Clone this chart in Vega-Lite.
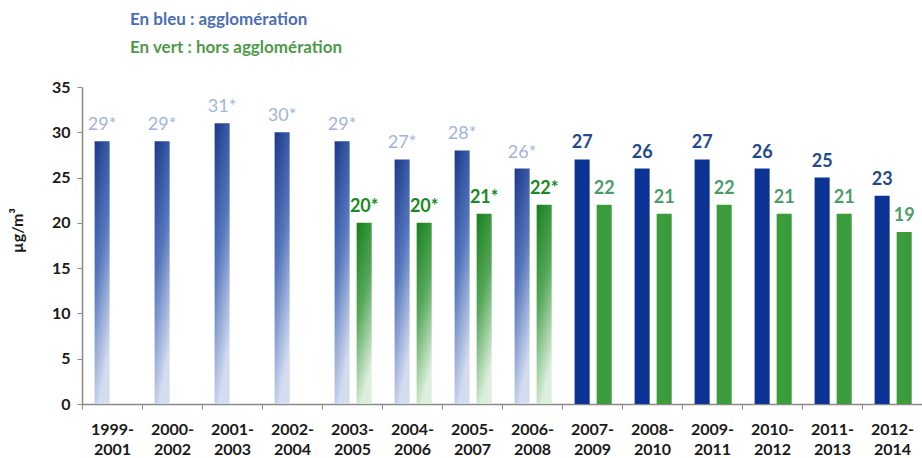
{
  "$schema": "https://vega.github.io/schema/vega-lite/v6.json",
  "width": 840,
  "height": 317,
  "autosize": {"type": "none"},
  "padding": {"left": 82, "top": 87, "right": 0, "bottom": 54},
  "background": "white",
  "config": {"font": "Lato", "view": {"stroke": null}},
  "title": {
    "text": "En bleu : agglomération",
    "subtitle": "En vert : hors agglomération",
    "anchor": "start",
    "frame": "group",
    "dx": 48,
    "font": "Lato",
    "subtitleFont": "Lato",
    "fontSize": 17,
    "subtitleFontSize": 17,
    "fontWeight": "bold",
    "subtitleFontWeight": "bold",
    "color": "#4B6DB2",
    "subtitleColor": "#4F9A4A",
    "subtitlePadding": 11,
    "offset": 22
  },
  "data": {
    "values": [
      {"period": "1999-2001", "serie": "agglomération", "value": 29, "label": "29*", "star": true},
      {"period": "2000-2002", "serie": "agglomération", "value": 29, "label": "29*", "star": true},
      {"period": "2001-2003", "serie": "agglomération", "value": 31, "label": "31*", "star": true},
      {"period": "2002-2004", "serie": "agglomération", "value": 30, "label": "30*", "star": true},
      {"period": "2003-2005", "serie": "agglomération", "value": 29, "label": "29*", "star": true},
      {"period": "2003-2005", "serie": "hors agglomération", "value": 20, "label": "20*", "star": true},
      {"period": "2004-2006", "serie": "agglomération", "value": 27, "label": "27*", "star": true},
      {"period": "2004-2006", "serie": "hors agglomération", "value": 20, "label": "20*", "star": true},
      {"period": "2005-2007", "serie": "agglomération", "value": 28, "label": "28*", "star": true},
      {"period": "2005-2007", "serie": "hors agglomération", "value": 21, "label": "21*", "star": true},
      {"period": "2006-2008", "serie": "agglomération", "value": 26, "label": "26*", "star": true},
      {"period": "2006-2008", "serie": "hors agglomération", "value": 22, "label": "22*", "star": true},
      {"period": "2007-2009", "serie": "agglomération", "value": 27, "label": "27", "star": false},
      {"period": "2007-2009", "serie": "hors agglomération", "value": 22, "label": "22", "star": false},
      {"period": "2008-2010", "serie": "agglomération", "value": 26, "label": "26", "star": false},
      {"period": "2008-2010", "serie": "hors agglomération", "value": 21, "label": "21", "star": false},
      {"period": "2009-2011", "serie": "agglomération", "value": 27, "label": "27", "star": false},
      {"period": "2009-2011", "serie": "hors agglomération", "value": 22, "label": "22", "star": false},
      {"period": "2010-2012", "serie": "agglomération", "value": 26, "label": "26", "star": false},
      {"period": "2010-2012", "serie": "hors agglomération", "value": 21, "label": "21", "star": false},
      {"period": "2011-2013", "serie": "agglomération", "value": 25, "label": "25", "star": false},
      {"period": "2011-2013", "serie": "hors agglomération", "value": 21, "label": "21", "star": false},
      {"period": "2012-2014", "serie": "agglomération", "value": 23, "label": "23", "star": false},
      {"period": "2012-2014", "serie": "hors agglomération", "value": 19, "label": "19", "star": false}
    ]
  },
  "encoding": {
    "x": {
      "field": "period",
      "type": "nominal",
      "sort": null,
      "scale": {"paddingInner": 0, "paddingOuter": 0},
      "axis": {
        "title": null,
        "labelAngle": 0,
        "labelExpr": "[slice(datum.value, 0, 5), slice(datum.value, 5)]",
        "labelFont": "Lato",
        "labelFontSize": 16,
        "labelFontWeight": "bold",
        "labelColor": "#1a1a1a",
        "labelLineHeight": 20,
        "labelPadding": 12,
        "tickOffset": -30,
        "labelOffset": 30,
        "tickSize": 5,
        "tickColor": "#8a8a8a",
        "domainColor": "#8a8a8a",
        "domainWidth": 1.5,
        "grid": false
      }
    },
    "xOffset": {
      "field": "serie",
      "type": "nominal",
      "scale": {"domain": ["agglomération", "hors agglomération"], "paddingInner": 0.318, "paddingOuter": 0.52, "align": 0.55}
    },
    "y": {
      "field": "value",
      "type": "quantitative",
      "scale": {"domain": [0, 35], "nice": false},
      "axis": {
        "title": "µg/m³",
        "titleFont": "Lato",
        "titleFontSize": 16,
        "titleFontWeight": "bold",
        "titleColor": "#1a1a1a",
        "titlePadding": 26,
        "titleY": 143,
        "values": [0, 5, 10, 15, 20, 25, 30, 35],
        "labelFont": "Lato",
        "labelFontSize": 16,
        "labelFontWeight": "bold",
        "labelColor": "#1a1a1a",
        "labelPadding": 7,
        "tickSize": 5,
        "tickColor": "#8a8a8a",
        "domainColor": "#8a8a8a",
        "domainWidth": 1.5,
        "grid": false
      }
    }
  },
  "layer": [
    {
      "transform": [{"filter": "datum.star && datum.serie === 'agglomération'"}],
      "mark": {
        "type": "bar",
        "color": {
          "gradient": "linear", "x1": 0, "y1": 0, "x2": 0.3, "y2": 1,
          "stops": [
            {"offset": 0, "color": "#1B3A8A"},
            {"offset": 0.5, "color": "#5576BC"},
            {"offset": 1, "color": "#D4DDF0"}
          ]
        }
      }
    },
    {
      "transform": [{"filter": "datum.star && datum.serie === 'hors agglomération'"}],
      "mark": {
        "type": "bar",
        "color": {
          "gradient": "linear", "x1": 0, "y1": 0, "x2": 0.3, "y2": 1,
          "stops": [
            {"offset": 0, "color": "#17801C"},
            {"offset": 0.5, "color": "#56A85A"},
            {"offset": 1, "color": "#DCEEDC"}
          ]
        }
      }
    },
    {
      "transform": [{"filter": "!datum.star && datum.serie === 'agglomération'"}],
      "mark": {"type": "bar", "color": "#0B3394"}
    },
    {
      "transform": [{"filter": "!datum.star && datum.serie === 'hors agglomération'"}],
      "mark": {"type": "bar", "color": "#3A9C3A"}
    },
    {
      "transform": [{"filter": "datum.star && datum.serie === 'agglomération'"}],
      "mark": {"type": "text", "baseline": "alphabetic", "dy": -11, "font": "Lato", "fontSize": 18, "fontWeight": "normal", "color": "#A2B4DA"},
      "encoding": {"text": {"field": "label"}}
    },
    {
      "transform": [{"filter": "!(datum.star && datum.serie === 'agglomération')"}],
      "mark": {"type": "text", "baseline": "alphabetic", "dy": -11, "font": "Lato", "fontSize": 18, "fontWeight": "bold"},
      "encoding": {
        "text": {"field": "label"},
        "color": {
          "condition": [
            {"test": "datum.star", "value": "#1A8A22"},
            {"test": "datum.serie === 'agglomération'", "value": "#1F4C86"}
          ],
          "value": "#4E9C6A"
        }
      }
    }
  ]
}
